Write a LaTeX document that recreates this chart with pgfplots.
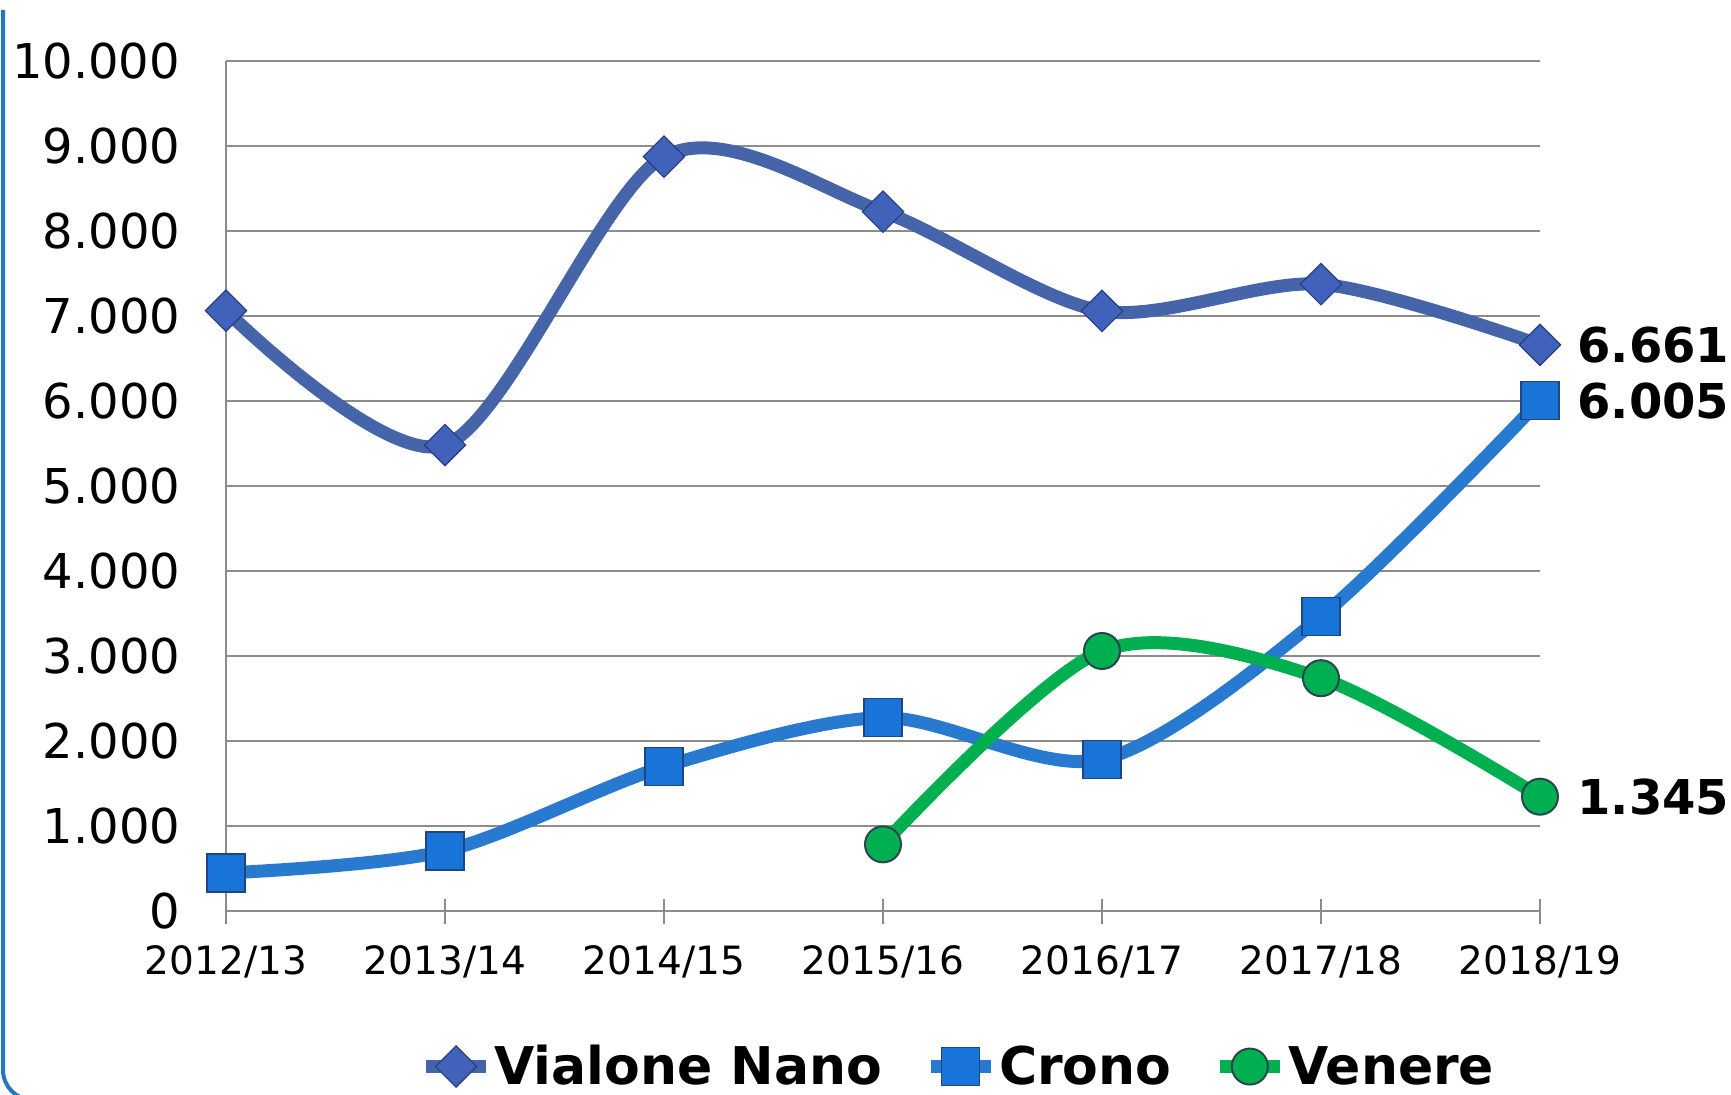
\documentclass[border=0pt]{standalone}
\usepackage{pgfplots}
\pgfplotsset{compat=1.18}
\usepackage{fontspec}
\setmainfont{DejaVu Sans}
\definecolor{vn}{RGB}{69,100,170}
\definecolor{vnm}{RGB}{64,98,186}
\definecolor{vnd}{RGB}{40,62,130}
\definecolor{cr}{RGB}{40,122,208}
\definecolor{crm}{RGB}{24,116,216}
\definecolor{crd}{RGB}{30,70,130}
\definecolor{ve}{RGB}{0,176,80}
\definecolor{ved}{RGB}{40,70,80}
\definecolor{grd}{RGB}{140,140,140}
\definecolor{frm}{RGB}{31,120,193}
\begin{document}
\begin{tikzpicture}
\draw[frm, line width=2pt] (1.5pt,542pt) -- (1.5pt,12pt) arc[start angle=180, end angle=270, radius=15pt] -- (100pt,-3pt);
\begin{axis}[
 at={(113pt,91.5pt)}, anchor=south west,
 scale only axis, width=657pt, height=425pt,
 xmin=0, xmax=6, ymin=0, ymax=10000,
 clip=false,
 axis x line*=bottom, axis y line*=left,
 axis line style={draw=grd, line width=0.75pt, -},
 xtick={0,1,2,3,4,5,6},
 xticklabels={2012/13,2013/14,2014/15,2015/16,2016/17,2017/18,2018/19},
 ytick={0,1000,2000,3000,4000,5000,6000,7000,8000,9000,10000},
 yticklabels={0,1.000,2.000,3.000,4.000,5.000,6.000,7.000,8.000,9.000,10.000},
 scaled y ticks=false,
 ymajorgrids, major grid style={draw=grd, line width=0.75pt},
 tick align=center, major tick length=12.5pt,
 xtick style={draw=grd, line width=0.75pt},
 ytick style={draw=none},
 x tick label style={font=\fontsize{19.5}{23}\selectfont, anchor=center, inner sep=0pt, yshift=-19pt},
 y tick label style={font=\fontsize{24}{28}\selectfont, anchor=east, inner sep=0pt, xshift=-16.5pt},
 legend columns=3,
 legend style={at={(0.557,-0.183)}, anchor=center, draw=none, fill=none,
   font=\fontsize{26}{31}\bfseries\selectfont,
   /tikz/every even column/.append style={column sep=20pt},
   nodes={inner sep=1pt}},
 legend image code/.code={\draw[#1, mark repeat=2, mark phase=2] plot coordinates {(0pt,0pt) (15pt,0pt) (30pt,0pt)};},
]
\addplot[vn, line width=6.5pt, smooth, tension=0.5, mark=square*, mark size=7.3pt,
  mark options={rotate=45, fill=vnm, draw=vnd, line width=0.6pt}]
  coordinates {(0,7063) (1,5482) (2,8875) (3,8227) (4,7059) (5,7374) (6,6661)};
\addlegendentry{Vialone Nano}
\addplot[cr, line width=6.5pt, smooth, tension=0.5, mark=square*, mark size=9.5pt,
  mark options={fill=crm, draw=crd, line width=0.6pt}]
  coordinates {(0,447) (1,706) (2,1698) (3,2275) (4,1784) (5,3464) (6,6005)};
\addlegendentry{Crono}
\addplot[ve, line width=6.5pt, smooth, tension=0.5, mark=*, mark size=9pt,
  mark options={fill=ve, draw=ved, line width=1pt}]
  coordinates {(3,784) (4,3059) (5,2739) (6,1345)};
\addlegendentry{Venere}
\node[anchor=west, inner sep=0pt, font=\fontsize{24}{28}\bfseries\selectfont, xshift=18.5pt] at (axis cs:6,6661) {6.661};
\node[anchor=west, inner sep=0pt, font=\fontsize{24}{28}\bfseries\selectfont, xshift=18.5pt] at (axis cs:6,6005) {6.005};
\node[anchor=west, inner sep=0pt, font=\fontsize{24}{28}\bfseries\selectfont, xshift=18.5pt] at (axis cs:6,1345) {1.345};
\end{axis}
\pgfresetboundingbox
\path[use as bounding box] (0,0) rectangle (865.5pt,547pt);
\end{tikzpicture}
\end{document}
